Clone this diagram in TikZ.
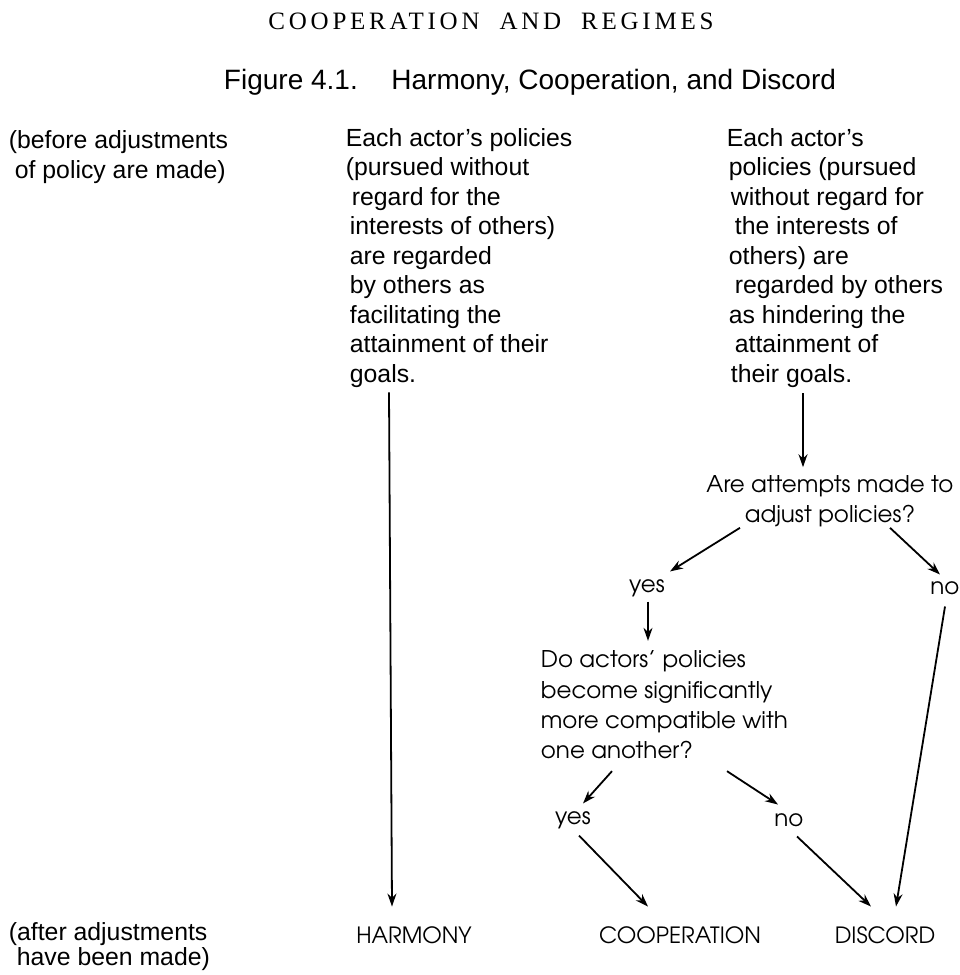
\documentclass[tikz,border=0pt]{standalone}
\usepackage{fontspec}
\setmainfont{Liberation Sans}
\newfontfamily\titlefont[LetterSpace=15]{Liberation Serif}
\newfontfamily\geofont{texgyreadventor-regular.otf}
\usetikzlibrary{
  positioning,
  calc,
  arrows.meta
}

\begin{document}
\begin{tikzpicture}[x=0.5pt,y=-0.5pt,line width=0.9pt,
  >={Stealth[length=6.5pt,width=4.5pt]},
  head/.style={inner sep=0pt,font=\titlefont\fontsize{12.5}{14}\selectfont},
  figcap/.style={inner sep=0pt,font=\fontsize{14}{16}\selectfont},
  note/.style={inner sep=0pt,align=left,font=\fontsize{12.4}{14.75}\selectfont},
  ask/.style={inner sep=0pt,font=\geofont\fontsize{11.5}{15.2}\selectfont},
  result/.style={inner sep=0pt,font=\geofont\fontsize{11.2}{12}\selectfont}]
		\useasboundingbox (0,0) rectangle (959,975);
		% headings
		\node[head] (1) at (491,21) {COOPERATION\ \ AND\ \ REGIMES};
		\node[figcap] (2) at (530,82) {Figure 4.1.\hspace{1.2em}Harmony, Cooperation, and Discord};
		% the two states of policy
		\node[note,anchor=west] (3) at (8,157) {(before adjustments\\\hspace{3pt}of policy are made)};
		\node[note,anchor=west] (4) at (345,258) {Each actor's policies\\(pursued without\\\hspace{3pt}regard for the\\\hspace{2pt}interests of others)\\\hspace{2pt}are regarded\\\hspace{2pt}by others as\\\hspace{2pt}facilitating the\\\hspace{2pt}attainment of their\\\hspace{2pt}goals.};
		\node[note,anchor=west] (5) at (726,258) {Each actor's\\\hspace{1pt}policies (pursued\\\hspace{2pt}without regard for\\\hspace{4pt}the interests of\\\hspace{1pt}others) are\\\hspace{4pt}regarded by others\\\hspace{1pt}as hindering the\\\hspace{4pt}attainment of\\\hspace{2pt}their goals.};
		% questions
		\node[ask,align=center] (6) at (830,501) {Are attempts made to\\adjust policies?};
		\node[ask] (7) at (647,588) {yes};
		\node[ask] (8) at (945,588) {no};
		\node[ask,align=left,anchor=west] (9) at (540,705) {Do actors’ policies\\become significantly\\more compatible with\\one another?};
		\node[ask] (10) at (573,820) {yes};
		\node[ask] (11) at (789,820) {no};
		% outcomes
		\node[result] (12) at (414,935) {HARMONY};
		\node[result] (13) at (680,935) {COOPERATION};
		\node[result] (14) at (885,935) {DISCORD};
		\node[note,anchor=west,font=\fontsize{12.4}{12.5}\selectfont] (15) at (8,947) {(after adjustments\\\hspace{4pt}have been made)};

		\draw [->] ($(4.south west)+(44,4)$) -- ($(12.north)+(-22,-19)$);
		\draw [->] ($(5.south west)+(77,5)$) -- ($(6.north)+(-27,-7)$);
		\draw [->] ($(6.south)+(-90,0)$) -- ($(7.north)+(23,-7)$);
		\draw [->] ($(6.south)+(60,0)$) -- ($(8.north)+(-5,-6)$);
		\draw [->] ($(7.south)+(1,4)$) -- ($(9.north west)+(108,-9)$);
		\draw [->] ($(9.south west)+(72,11)$) -- ($(10.north)+(10,-7)$);
		\draw [->] ($(9.south west)+(187,11)$) -- ($(11.north)+(-11,-8)$);
		\draw [->] ($(10.south)+(6,6)$) -- ($(13.north)+(-32,-19)$);
		\draw [->] ($(11.south)+(8,9)$) -- ($(14.north)+(-14,-19)$);
		\draw [->] ($(8.south)+(0,11)$) -- ($(14.north)+(11,-19)$);
	\end{tikzpicture}
\end{document}
